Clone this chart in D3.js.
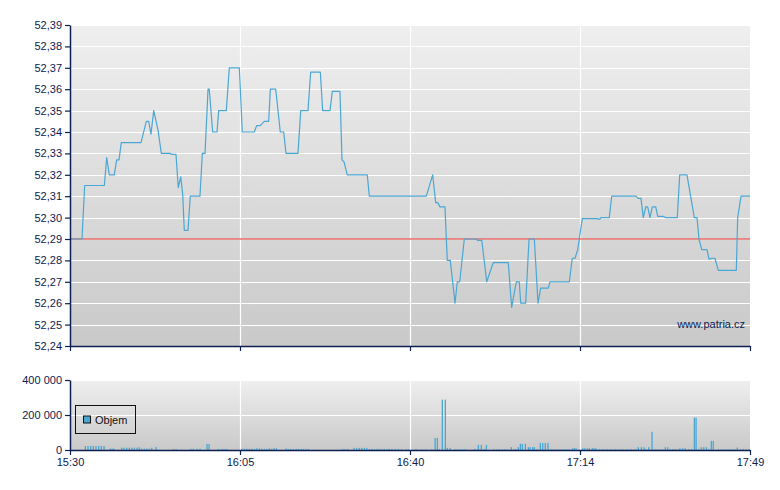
<!DOCTYPE html>
<html><head><meta charset="utf-8">
<script src="https://cdn.jsdelivr.net/npm/d3@7"></script>
<style>
body{margin:0;background:#fff;}
svg{display:block;font-family:"Liberation Sans",Arial,sans-serif;}
</style></head>
<body>
<svg id="chart" width="780" height="490"></svg>
<script>
// ---------- DATA ----------
const priceTimes = ["15:30:00","15:32:27","15:33:00","15:37:01","15:37:30","15:38:02","15:39:03","15:39:33","15:40:01","15:40:29","15:44:31","15:45:36","15:46:05","15:46:33","15:47:07","15:47:59","15:48:40","15:50:26","15:50:51","15:51:40","15:52:08","15:52:38","15:53:02","15:53:22","15:54:07","15:54:35","15:56:34","15:57:03","15:57:36","15:58:13","15:58:28","15:59:10","16:00:03","16:00:24","16:01:57","16:02:34","16:04:37","16:05:13","16:07:40","16:08:10","16:08:54","16:09:43","16:10:37","16:10:57","16:12:03","16:12:59","16:13:41","16:14:09","16:16:36","16:17:10","16:18:39","16:19:12","16:21:10","16:21:39","16:23:09","16:23:37","16:25:11","16:25:36","16:26:01","16:26:41","16:30:46","16:31:11","16:42:50","16:44:08","16:44:45","16:45:10","16:45:38","16:46:39","16:47:07","16:47:44","16:48:42","16:49:10","16:49:40","16:50:36","16:52:56","16:53:20","16:54:10","16:55:11","16:56:32","16:59:35","17:00:17","17:01:14","17:01:50","17:02:08","17:03:09","17:03:50","17:04:55","17:05:40","17:06:13","17:07:46","17:08:07","17:12:04","17:12:40","17:13:14","17:13:47","17:14:43","17:17:52","17:18:17","17:18:33","17:20:14","17:20:44","17:25:42","17:26:07","17:26:43","17:27:11","17:27:41","17:28:05","17:28:34","17:29:02","17:29:44","17:30:08","17:31:13","17:31:46","17:34:08","17:34:38","17:36:07","17:37:37","17:38:10","17:38:34","17:39:08","17:40:13","17:40:37","17:41:10","17:41:50","17:42:31","17:46:12","17:46:29","17:47:10","17:49:00"];
const priceValues = [52.29,52.29,52.315,52.315,52.328,52.32,52.32,52.327,52.327,52.335,52.335,52.345,52.345,52.339,52.35,52.341,52.33,52.33,52.3295,52.3295,52.314,52.319,52.311,52.294,52.294,52.31,52.31,52.33,52.33,52.36,52.36,52.34,52.34,52.35,52.35,52.37,52.37,52.34,52.34,52.343,52.343,52.345,52.345,52.36,52.36,52.34,52.34,52.33,52.33,52.35,52.35,52.368,52.368,52.35,52.35,52.359,52.359,52.327,52.326,52.32,52.32,52.31,52.31,52.32,52.307,52.307,52.305,52.305,52.28,52.28,52.26,52.27,52.27,52.29,52.29,52.2894,52.2894,52.27,52.279,52.279,52.258,52.27,52.27,52.26,52.26,52.29,52.29,52.26,52.267,52.267,52.27,52.27,52.281,52.281,52.285,52.2995,52.2995,52.2992,52.30,52.30,52.31,52.31,52.309,52.309,52.30,52.305,52.305,52.30,52.305,52.305,52.3006,52.3006,52.30,52.30,52.32,52.32,52.30,52.30,52.29,52.285,52.285,52.2806,52.281,52.281,52.2753,52.2753,52.30,52.31,52.31];
const referencePrice = 52.29;

const volumeTimes = ["15:33:08","15:33:41","15:34:14","15:34:46","15:35:19","15:35:52","15:36:24","15:36:57","15:38:11","15:38:35","15:38:59","15:40:34","15:41:02","15:41:35","15:42:07","15:42:37","15:43:08","15:43:42","15:44:10","15:44:39","15:45:11","15:45:41","15:46:13","15:46:42","15:47:35","15:51:07","15:51:40","15:54:40","15:55:12","15:55:54","15:56:34","15:58:00","15:58:25","16:00:19","16:01:01","16:01:29","16:02:02","16:05:06","16:05:38","16:06:07","16:06:39","16:07:08","16:07:40","16:08:10","16:08:42","16:09:11","16:09:43","16:10:13","16:10:44","16:11:14","16:11:42","16:12:10","16:14:09","16:14:37","16:15:07","16:15:38","16:16:12","16:16:40","16:17:13","16:17:41","16:18:14","16:18:43","16:25:44","16:26:13","16:26:46","16:28:03","16:28:36","16:29:08","16:29:38","16:30:10","16:30:39","16:31:11","16:31:40","16:32:12","16:32:45","16:33:13","16:33:47","16:34:15","16:34:48","16:35:16","16:35:49","16:36:26","16:37:03","16:37:48","16:38:41","16:39:09","16:40:31","16:40:52","16:41:53","16:42:46","16:43:56","16:44:37","16:45:05","16:45:29","16:46:06","16:46:43","16:47:07","16:47:41","16:48:42","16:49:15","16:49:43","16:50:16","16:50:44","16:52:47","16:53:28","16:54:04","16:54:38","16:55:06","16:56:40","16:57:13","16:57:45","16:58:18","16:58:51","16:59:23","17:00:12","17:00:46","17:01:10","17:01:38","17:02:03","17:02:27","17:03:04","17:03:41","17:04:02","17:04:35","17:04:55","17:05:31","17:06:08","17:06:37","17:07:09","17:07:42","17:08:15","17:08:47","17:09:21","17:09:54","17:10:26","17:10:59","17:11:32","17:12:04","17:12:45","17:13:05","17:13:26","17:14:48","17:15:12","17:15:44","17:16:09","17:16:46","17:17:07","17:17:31","17:18:12","17:18:45","17:19:18","17:19:50","17:20:23","17:20:56","17:21:28","17:22:01","17:22:34","17:23:06","17:23:39","17:24:12","17:24:44","17:25:17","17:25:50","17:26:10","17:26:47","17:27:20","17:27:41","17:28:17","17:28:58","17:29:35","17:30:08","17:30:40","17:31:13","17:31:41","17:32:11","17:32:39","17:33:12","17:33:44","17:34:17","17:34:41","17:35:14","17:35:46","17:36:28","17:37:05","17:37:37","17:37:58","17:38:31","17:39:02","17:39:32","17:40:04","17:40:33","17:41:05","17:41:29","17:42:31","17:43:04","17:43:37","17:44:10","17:44:43","17:45:16","17:45:47","17:46:24","17:47:05","17:47:38","17:48:10","17:48:46"];
const volumeValues = [23000,23000,23000,23000,23000,23000,23000,23000,8000,8000,8000,13000,13000,13000,13000,13000,13000,13000,15000,8000,8000,8000,8000,13000,17000,6000,6000,7000,7000,7000,7000,35000,35000,6000,6000,6000,6000,7000,7000,7000,7000,7000,7000,10000,9000,7000,7000,7000,10000,7000,10000,10000,9000,6000,6000,6000,6000,6000,6000,6000,6000,6000,6000,6000,6000,12000,12000,12000,12000,12000,12000,6000,6000,6000,6000,6000,6000,6000,6000,6000,6000,6000,6000,4000,4000,4000,4000,4000,4000,4000,3000,69000,69000,4000,288000,288000,12000,12000,4000,4000,4000,4000,4000,6000,29000,29000,5000,29000,4000,4000,4000,4000,4000,4000,16000,5000,5000,16000,35000,35000,35000,16000,16000,16000,16000,5000,40000,40000,40000,40000,4000,4000,4000,4000,4000,4000,4000,4000,10000,10000,10000,10000,10000,10000,10000,10000,10000,10000,4000,4000,4000,4000,4000,4000,4000,4000,4000,4000,4000,4000,4000,4000,4000,16000,16000,16000,5000,16000,104000,4000,4000,4000,4000,16000,16000,5000,5000,5000,5000,10000,10000,10000,5000,5000,185000,185000,5000,16000,16000,16000,5000,52000,52000,4000,4000,4000,4000,4000,4000,4000,14000,4000,4000,4000,4000];

const xTickLabels = ["15:30","16:05","16:40","17:14","17:49"];
const priceTicks = [52.24,52.25,52.26,52.27,52.28,52.29,52.30,52.31,52.32,52.33,52.34,52.35,52.36,52.37,52.38,52.39];
const volumeTicks = [0,200000,400000];
const legendLabel = "Objem";
const watermark = "www.patria.cz";

// ---------- SETUP ----------
const svg = d3.select("#chart");
const parse = s => { const [h,m,sec] = s.split(":").map(Number); return new Date(2020,0,1,h,m,sec||0); };
const t0 = parse("15:30:00"), t1 = parse("17:49:00");
const L = 70, R = 750;
const main = {top:25, bottom:346};
const vol = {top:380, bottom:450};
const navy = "#0c2150";
const lineColor = "#4aa7d4";

const x = d3.scaleTime().domain([t0,t1]).range([L,R]);
const y = d3.scaleLinear().domain([52.24,52.39]).range([main.bottom, main.top]);
const yv = d3.scaleLinear().domain([0,400000]).range([vol.bottom, vol.top]);
const xTickDates = xTickLabels.map((_,i)=> new Date(+t0 + i*(t1-t0)/4));

const defs = svg.append("defs");
const grad = defs.append("linearGradient").attr("id","bg").attr("x1",0).attr("y1",0).attr("x2",0).attr("y2",1);
grad.append("stop").attr("offset","0%").attr("stop-color","#efefef");
grad.append("stop").attr("offset","100%").attr("stop-color","#c9c9c9");

function panel(top,bottom){
  svg.append("rect").attr("x",L).attr("y",top).attr("width",R-L).attr("height",bottom-top).attr("fill","url(#bg)");
}
panel(main.top, main.bottom);
panel(vol.top, vol.bottom);

// gridlines main
const gMain = svg.append("g");
gMain.selectAll("line.h").data(priceTicks.slice(1)).join("line")
  .attr("x1",L).attr("x2",R).attr("y1",d=>Math.round(y(d))+0.5).attr("y2",d=>Math.round(y(d))+0.5)
  .attr("stroke","#fff").attr("stroke-width",1.2);
gMain.selectAll("line.v").data(xTickDates.slice(1,4)).join("line")
  .attr("x1",d=>Math.round(x(d))+0.5).attr("x2",d=>Math.round(x(d))+0.5).attr("y1",main.top).attr("y2",main.bottom)
  .attr("stroke","#fff").attr("stroke-width",1.2);
// gridlines vol
const gVol = svg.append("g");
gVol.selectAll("line.h").data(volumeTicks.slice(1)).join("line")
  .attr("x1",L).attr("x2",R).attr("y1",d=>Math.round(yv(d))+0.5).attr("y2",d=>Math.round(yv(d))+0.5)
  .attr("stroke","#fff").attr("stroke-width",1.2);
gVol.selectAll("line.v").data(xTickDates.slice(1,4)).join("line")
  .attr("x1",d=>Math.round(x(d))+0.5).attr("x2",d=>Math.round(x(d))+0.5).attr("y1",vol.top).attr("y2",vol.bottom)
  .attr("stroke","#fff").attr("stroke-width",1.2);

// reference line
svg.append("line").attr("x1",L).attr("x2",R).attr("y1",y(referencePrice)).attr("y2",y(referencePrice))
  .attr("stroke","#e46a6a").attr("stroke-width",1.3);

// price line
const pts = priceTimes.map((t,i)=>({t:parse(t), v:priceValues[i]}));
svg.append("path").datum(pts)
  .attr("d", d3.line().x(d=>x(d.t)).y(d=>y(d.v)))
  .attr("fill","none").attr("stroke",lineColor).attr("stroke-width",1.2).attr("stroke-linejoin","round");

// volume bars
const vbars = volumeTimes.map((t,i)=>({t:parse(t), v:volumeValues[i]}));
svg.append("g").selectAll("rect").data(vbars).join("rect")
  .attr("x",d=>x(d.t)-0.6).attr("width",1.3)
  .attr("y",d=>yv(d.v)).attr("height",d=>vol.bottom-yv(d.v))
  .attr("fill",lineColor);

// axes
function styleAxis(g){
  g.selectAll("path.domain").attr("stroke",navy).attr("stroke-width",1.5);
  g.selectAll(".tick line").attr("stroke",navy).attr("stroke-width",1.2);
  g.selectAll("text").attr("fill",navy).attr("font-size","11px").attr("font-family","'Liberation Sans',Arial,sans-serif");
}
const fmtPrice = d => d3.format(".2f")(d).replace(".",",");
const yAx = svg.append("g").attr("transform",`translate(${L},0)`)
  .call(d3.axisLeft(y).tickValues(priceTicks).tickFormat(fmtPrice).tickSize(5).tickSizeOuter(0).tickPadding(3));
styleAxis(yAx);
const xAxMain = svg.append("g").attr("transform",`translate(0,${main.bottom})`)
  .call(d3.axisBottom(x).tickValues(xTickDates).tickFormat("").tickSize(5).tickSizeOuter(0));
styleAxis(xAxMain);

const fmtVol = d => d3.format(",")(d).replace(/,/g," ");
const yvAx = svg.append("g").attr("transform",`translate(${L},0)`)
  .call(d3.axisLeft(yv).tickValues(volumeTicks).tickFormat(fmtVol).tickSize(5).tickSizeOuter(0).tickPadding(3));
styleAxis(yvAx);
const xAxVol = svg.append("g").attr("transform",`translate(0,${vol.bottom})`)
  .call(d3.axisBottom(x).tickValues(xTickDates).tickFormat((d,i)=>xTickLabels[i]).tickSize(5).tickSizeOuter(0).tickPadding(3));
styleAxis(xAxVol);

// watermark
svg.append("text").attr("x",745).attr("y",328).attr("text-anchor","end")
  .attr("fill",navy).attr("font-size","11px").text(watermark);

// legend
const lg = svg.append("g").attr("transform","translate(75.5,405.5)");
lg.append("rect").attr("width",60).attr("height",28).attr("fill","none").attr("stroke","#111").attr("stroke-width",1);
lg.append("rect").attr("x",8).attr("y",10.5).attr("width",7).attr("height",7).attr("fill",lineColor).attr("stroke","#111").attr("stroke-width",1);
lg.append("text").attr("x",19.5).attr("y",18.5).attr("fill","#111").attr("font-size","11px").text(legendLabel);
</script>
</body></html>
